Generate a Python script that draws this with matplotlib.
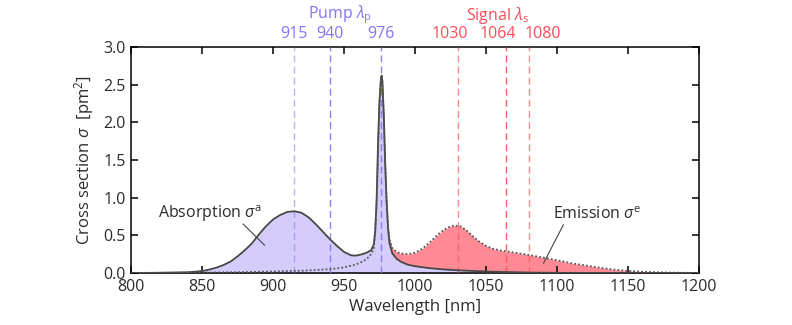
import matplotlib
matplotlib.use("Agg")
import matplotlib.pyplot as plt
from matplotlib.transforms import blended_transform_factory

plt.rcParams['font.family'] = ['Open Sans', 'DejaVu Sans']
plt.rcParams['mathtext.fontset'] = 'custom'
plt.rcParams['mathtext.rm'] = 'Open Sans'
plt.rcParams['mathtext.it'] = 'Open Sans:italic'

# --- dane ---
abs_wl = [800, 820, 840, 850, 855, 860, 865, 870, 875, 880, 885, 890, 895, 900, 905, 910,
          915, 920, 925, 930, 935, 940, 945, 950, 955, 958, 962, 966, 969, 971, 972, 973,
          974, 975, 976, 976.5, 977, 978, 979, 980, 981, 982, 984, 987, 990, 995, 1000,
          1010, 1020, 1030, 1040, 1050, 1060, 1080, 1100, 1150, 1200]
abs_sigma = [0.0, 0.003, 0.01, 0.025, 0.045, 0.07, 0.105, 0.15, 0.22, 0.30, 0.39, 0.51,
             0.62, 0.71, 0.77, 0.81, 0.82, 0.80, 0.74, 0.65, 0.55, 0.45, 0.36, 0.28, 0.235,
             0.23, 0.245, 0.27, 0.30, 0.38, 0.55, 1.0, 1.75, 2.3, 2.58, 2.62, 2.55, 2.1,
             1.45, 0.95, 0.6, 0.4, 0.26, 0.19, 0.15, 0.11, 0.09, 0.065, 0.048, 0.036,
             0.028, 0.02, 0.014, 0.006, 0.002, 0.0, 0.0]

em_wl = [800, 850, 880, 900, 920, 940, 950, 958, 964, 968, 971, 973, 974, 975, 976, 976.5,
         977, 978, 979, 980, 981, 982, 984, 987, 990, 995, 1000, 1005, 1010, 1015, 1020,
         1025, 1028, 1032, 1036, 1040, 1045, 1050, 1055, 1060, 1070, 1080, 1090, 1100,
         1110, 1120, 1130, 1140, 1150, 1160, 1170, 1180, 1200]
em_sigma = [0.0, 0.005, 0.012, 0.02, 0.03, 0.05, 0.075, 0.11, 0.16, 0.22, 0.32, 0.9, 1.6,
            2.25, 2.55, 2.62, 2.55, 2.1, 1.45, 0.95, 0.62, 0.45, 0.33, 0.28, 0.26, 0.25,
            0.27, 0.32, 0.40, 0.49, 0.57, 0.62, 0.63, 0.62, 0.57, 0.50, 0.42, 0.36, 0.32,
            0.30, 0.27, 0.24, 0.205, 0.17, 0.13, 0.10, 0.07, 0.045, 0.028, 0.017, 0.01,
            0.005, 0.0]

pump_wl = [915, 940, 976]
signal_wl = [1030, 1064, 1080]
# pozycje podpisów nad osią (przesunięte, żeby się nie nakładały)
pump_label_x = [915, 940, 976]
signal_label_x = [1024.5, 1058, 1090]

PUMP = "#8375f6"
SIGNAL = "#fb4b5c"
TXT = "#2b2b2b"
FS = 11.5

fig = plt.figure(figsize=(7.92, 3.25), dpi=100)
ax = fig.add_axes([0.1654, 0.16, 0.7172, 0.6954])

# wypełnienia
ax.fill_between(em_wl, em_sigma, color="#ff8a95", lw=0, zorder=1)
ax.fill_between(abs_wl, abs_sigma, color="#d6ccfc", lw=0, zorder=2)

# linie pompy i sygnału
trans = blended_transform_factory(ax.transData, ax.transAxes)
for wl, lx, a in zip(pump_wl, pump_label_x, [0.55, 0.9, 0.9]):
    ax.axvline(wl, color=PUMP, ls=(0, (5, 3)), lw=1.0, alpha=a, zorder=3)
    ax.text(lx, 1.02, str(wl), transform=trans, ha="center", va="bottom",
            color=PUMP, fontsize=FS)
for wl, lx, a in zip(signal_wl, signal_label_x, [0.65, 0.9, 0.65]):
    ax.axvline(wl, color=SIGNAL, ls=(0, (5, 3)), lw=1.0, alpha=a, zorder=3)
    ax.text(lx, 1.02, str(wl), transform=trans, ha="center", va="bottom",
            color=SIGNAL, fontsize=FS)
ax.text(947, 1.095, r"Pump $\lambda_\mathrm{p}$", transform=trans, ha="center",
        va="bottom", color=PUMP, fontsize=FS)
ax.text(1058, 1.095, r"Signal $\lambda_\mathrm{s}$", transform=trans, ha="center",
        va="bottom", color=SIGNAL, fontsize=FS)

# krzywe
ax.plot(abs_wl, abs_sigma, color="#474747", lw=1.3, zorder=4)
ax.plot(em_wl, em_sigma, color="#555555", lw=1.3, ls=(0, (1, 1.2)), zorder=4)

# podpisy
ax.text(856, 0.79, r"Absorption $\sigma^\mathrm{a}$", ha="center", va="center",
        color=TXT, fontsize=FS)
ax.plot([879, 894], [0.65, 0.37], color="#444444", lw=0.8, zorder=5)
ax.text(1128, 0.77, r"Emission $\sigma^\mathrm{e}$", ha="center", va="center",
        color=TXT, fontsize=FS)
ax.plot([1104.5, 1090.5], [0.64, 0.13], color="#444444", lw=0.8, zorder=5)

ax.set_xlim(800, 1200)
ax.set_ylim(0, 3.0)
ax.set_xticks(range(800, 1201, 50))
ax.set_yticks([0, 0.5, 1.0, 1.5, 2.0, 2.5, 3.0])
ax.set_yticklabels(["0.0", "0.5", "1.0", "1.5", "2.0", "2.5", "3.0"])
ax.tick_params(direction="in", top=True, right=True, length=5, width=1.1,
               labelsize=FS, labelcolor=TXT, pad=4)
for s in ax.spines.values():
    s.set_linewidth(1.1)
ax.set_xlabel("Wavelength [nm]", fontsize=12, color=TXT, labelpad=3)
ax.set_ylabel(r"Cross section $\sigma$  [pm$^2$]", fontsize=12, color=TXT, labelpad=5)

fig.savefig("out.png", dpi=100)
